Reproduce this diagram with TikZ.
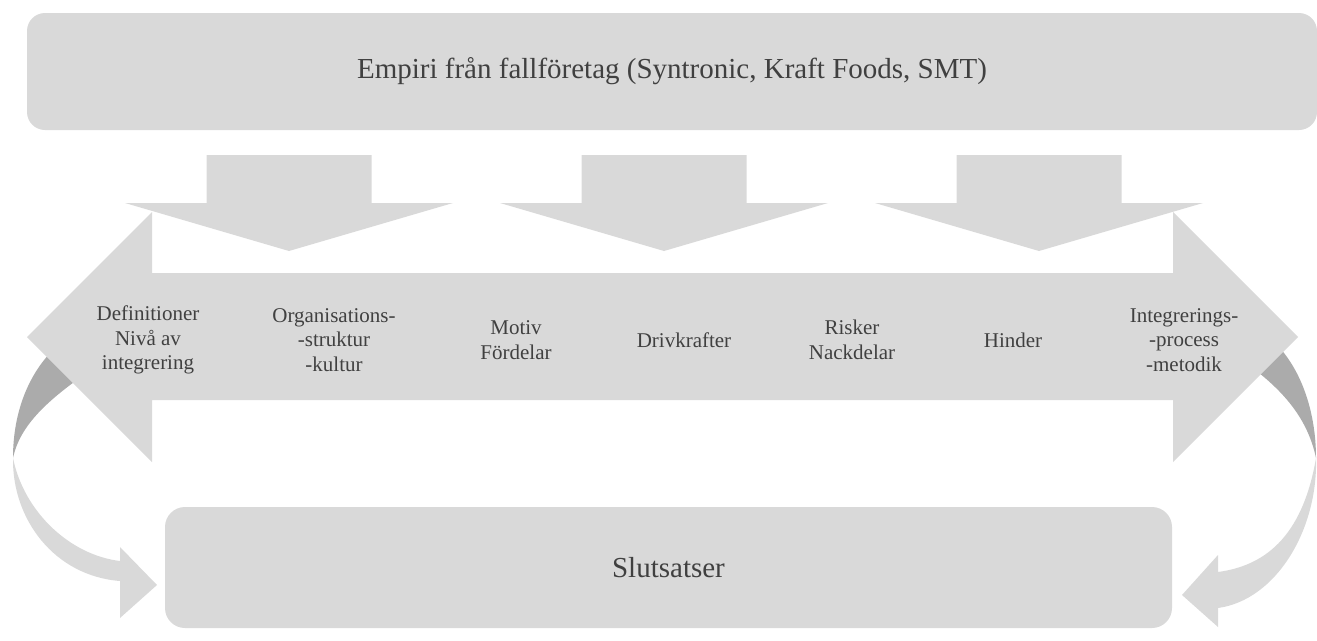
\documentclass[tikz,border=0pt]{standalone}
\usepackage{fontspec}
\setmainfont{Liberation Serif}
\definecolor{fillg}{HTML}{D9D9D9}
\definecolor{darkg}{HTML}{ABABAB}
\definecolor{txt}{HTML}{404040}
\begin{document}
\begin{tikzpicture}[x=1pt,y=-1pt,
  roundbox/.style={fill=fillg, rounded corners=18pt, inner sep=0pt, text=txt, font=\fontsize{29}{34}\selectfont},
  lbl/.style={text=txt, align=center, font=\fontsize{21}{24.5}\selectfont, inner sep=0pt},
  blk/.style={fill=fillg},
  dblk/.style={fill=darkg}]
\useasboundingbox (0,0) rectangle (1317,640);

% down arrows
\foreach \c in {289,664,1039}{
  \fill[blk] (\c-82.5,155) -- (\c+82.5,155) -- (\c+82.5,203) -- (\c+164,203) -- (\c,251)
    -- (\c-164,203) -- (\c-82.5,203) -- cycle;
}

% dark back parts of the curved arrows
\coordinate (TL) at (13,458);
\coordinate (TR) at (1316,458);
\fill[dblk] (TL) .. controls (13,410) and (30,372) .. (55,348) -- (88,372)
  .. controls (48,400) and (20,425) .. (TL) -- cycle;
\fill[dblk] (TR) .. controls (1316,410) and (1300,368) .. (1276,344) -- (1250,366)
  .. controls (1285,392) and (1308,420) .. (TR) -- cycle;

% double-headed arrow
\fill[blk] (27,337) -- (152,212) -- (152,273) -- (1173,273) -- (1173,212) -- (1298,337)
  -- (1173,462) -- (1173,400) -- (152,400) -- (152,462) -- cycle;

% light front parts of the curved arrows with heads
\fill[blk] (TL) .. controls (12,520) and (55,576) .. (120,581) -- (120,618) -- (157,585)
  -- (120,547) -- (120,561) .. controls (70,555) and (24,512) .. (TL) -- cycle;
\fill[blk] (TR) .. controls (1318,530) and (1276,600) .. (1218,608) -- (1218,627) -- (1182,595)
  -- (1218,555) -- (1218,572) .. controls (1262,566) and (1302,540) .. (TR) -- cycle;

% boxes
\node[roundbox, minimum width=1290pt, minimum height=117pt] (top) at (672,71.5)
  {Empiri från fallföretag (Syntronic, Kraft Foods, SMT)};
\node[roundbox, rounded corners=20pt, minimum width=1007pt, minimum height=121pt] (bottom) at (668.5,567.5)
  {Slutsatser};

% labels
\node[lbl] (l1) at (148,340) {Definitioner\\Nivå av\\integrering};
\node[lbl] (l2) at (334,340) {Organisations-\\-struktur\\-kultur};
\node[lbl] (l3) at (516,340) {Motiv\\Fördelar};
\node[lbl] (l4) at (684,340) {Drivkrafter};
\node[lbl] (l5) at (852,340) {Risker\\Nackdelar};
\node[lbl] (l6) at (1013,340) {Hinder};
\node[lbl] (l7) at (1184,340) {Integrerings-\\-process\\-metodik};
\end{tikzpicture}
\end{document}
